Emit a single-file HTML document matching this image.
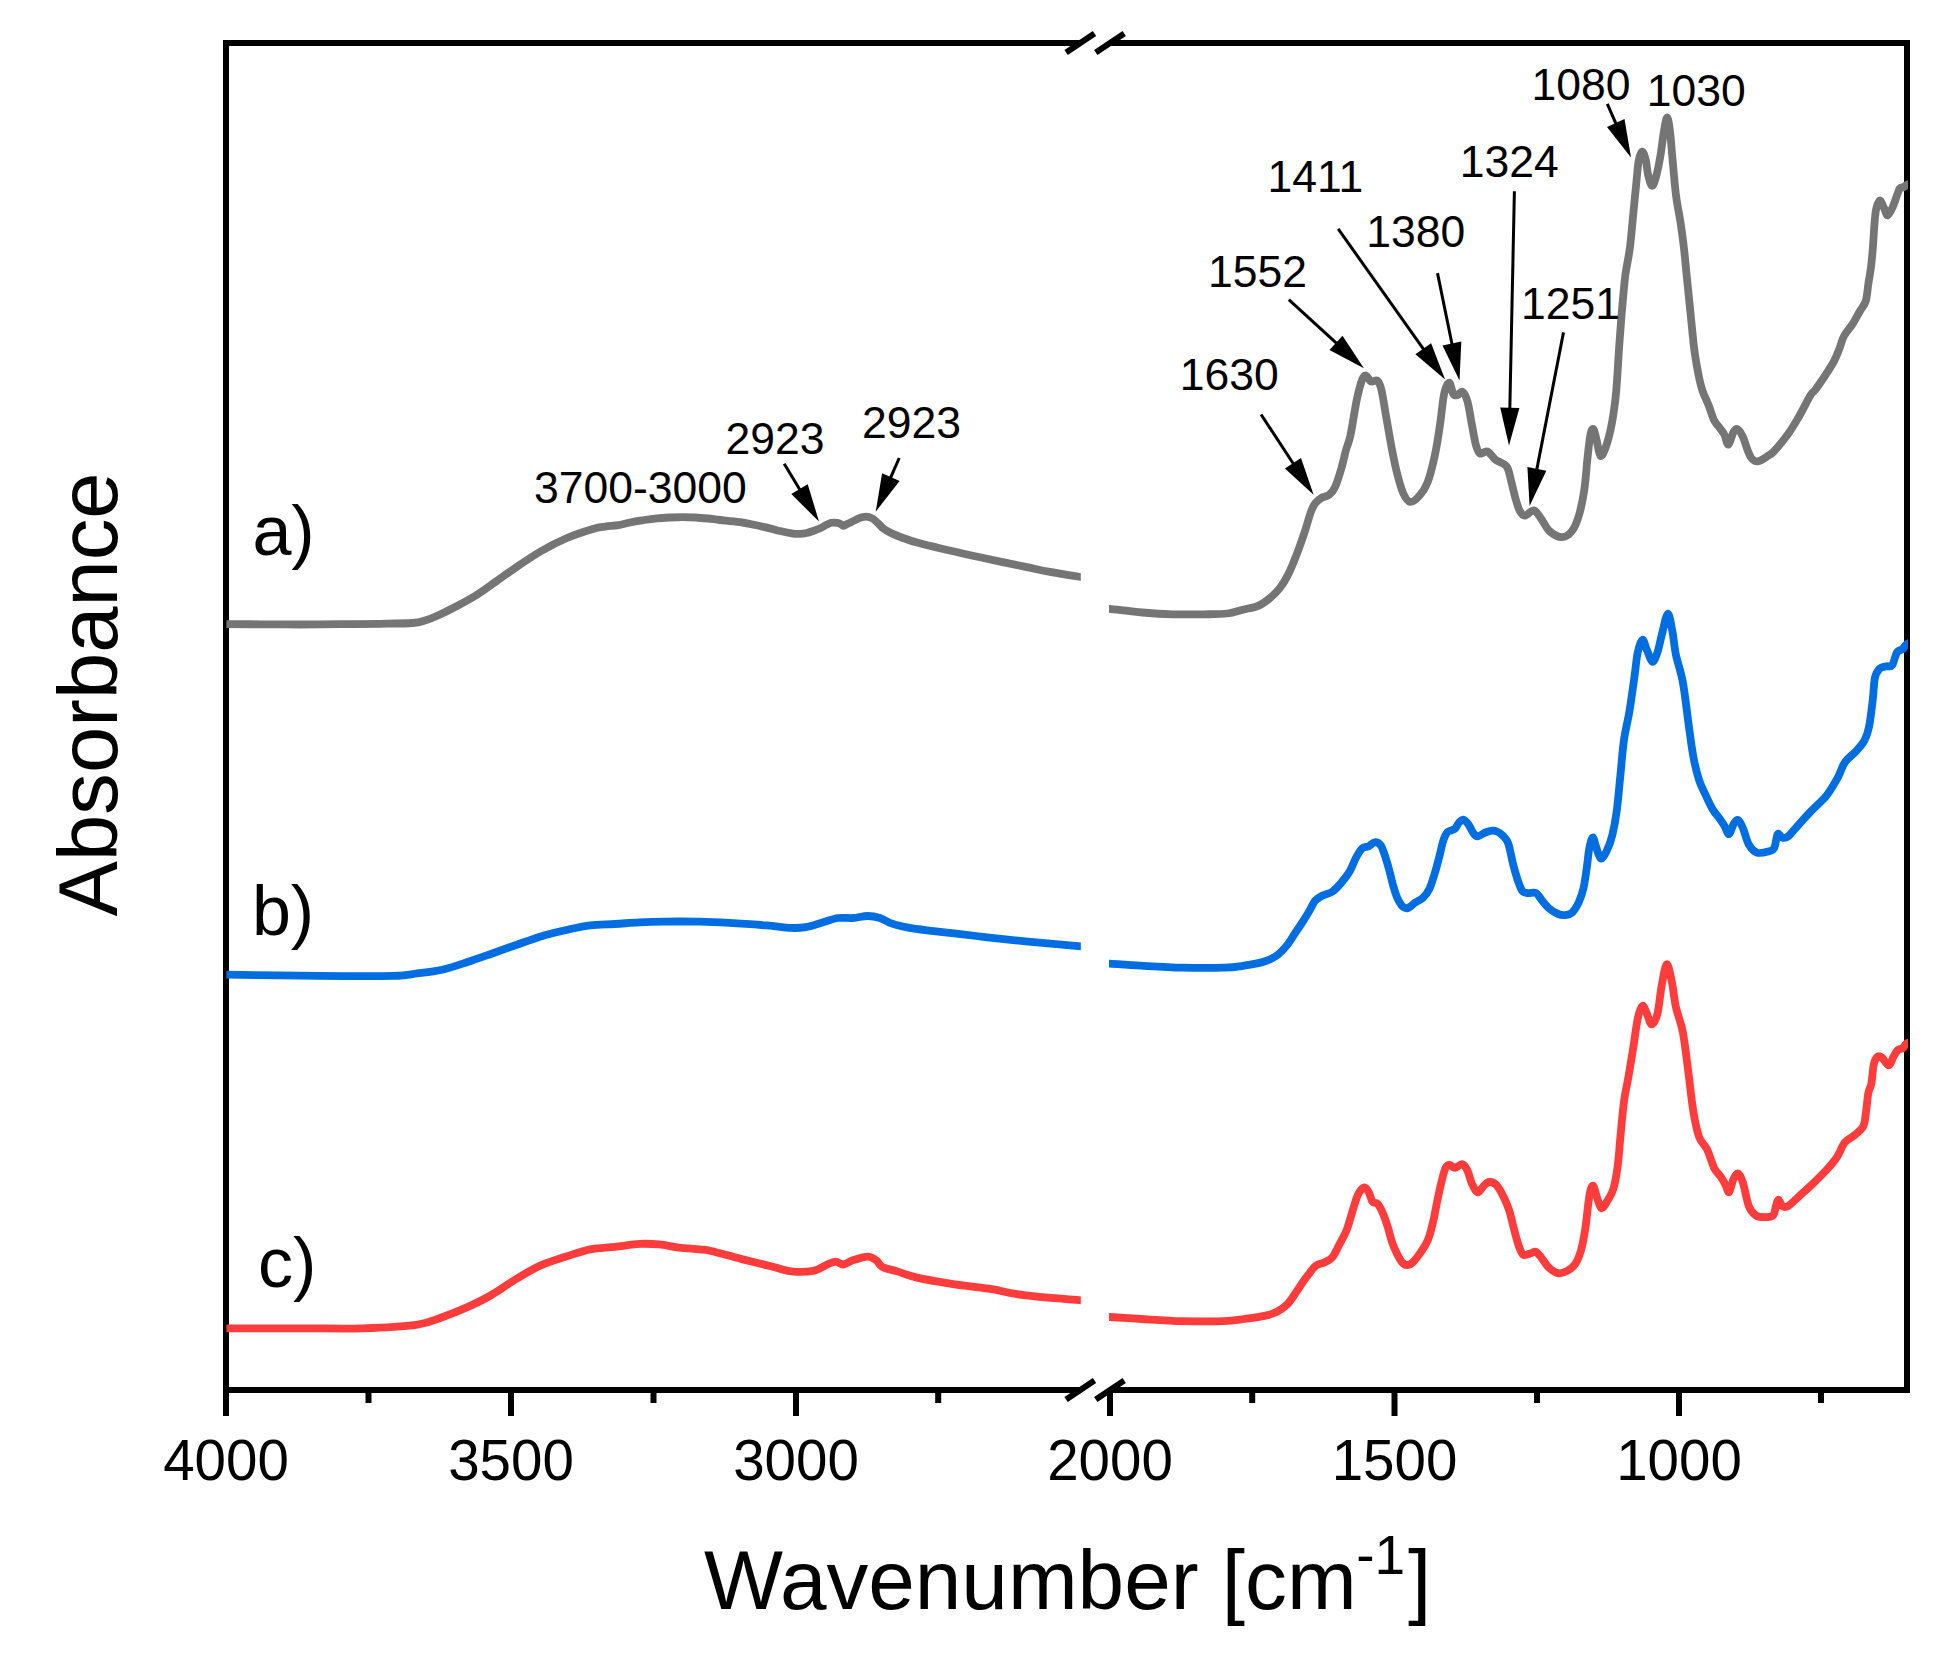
<!DOCTYPE html>
<html lang="en"><head><meta charset="utf-8"><title>FTIR absorbance spectra</title>
<style>html,body{margin:0;padding:0;background:#fff}body{width:1945px;height:1660px;overflow:hidden}svg{display:block}text{font-family:"Liberation Sans",Arial,Helvetica,sans-serif;fill:#000}.tk{font-size:56.5px;text-anchor:middle}.an{font-size:44.5px}.lb{font-size:70px}.ax{font-size:83.7px}.c{fill:none;stroke-width:7.8;stroke-linejoin:round;stroke-linecap:butt}</style></head><body>
<svg width="1945" height="1660" viewBox="0 0 1945 1660">
<rect width="1945" height="1660" fill="#fff"/>
<g stroke="#000" stroke-width="6" fill="none" stroke-linecap="butt">
<path d="M226 40.0V1393.0 M1907 40.0V1393.0"/>
<path d="M226 43H1080 M1110 43H1907"/>
<path d="M226 1390H1080 M1110 1390H1907"/>
<path d="M1066.1 52.5L1094.5 33.5"/>
<path d="M1095.8 52.5L1124.2 33.5"/>
<path d="M1066.1 1399.5L1094.5 1380.5"/>
<path d="M1095.8 1399.5L1124.2 1380.5"/>
<path d="M226 1390V1416M511 1390V1416M796 1390V1416M1110 1390V1416M1394.5 1390V1416M1679 1390V1416M368.5 1390V1403M653.5 1390V1403M938.2 1390V1403M1252.2 1390V1403M1537 1390V1403M1821 1390V1403"/>
</g>
<text class="tk" x="226" y="1480">4000</text>
<text class="tk" x="511" y="1480">3500</text>
<text class="tk" x="796" y="1480">3000</text>
<text class="tk" x="1110" y="1480">2000</text>
<text class="tk" x="1394.5" y="1480">1500</text>
<text class="tk" x="1679" y="1480">1000</text>
<text class="ax" x="704" y="1608.7">Wavenumber [cm<tspan font-size="55" dy="-34.4" dx="-0.5">-1</tspan><tspan dy="34.4" dx="3">]</tspan></text>
<text class="ax" style="font-size:83.2px" transform="translate(117.3 916.4) rotate(-90)" x="0" y="0">Absorbance</text>
<clipPath id="cp"><rect x="226.4" y="46" width="854.4" height="1341"/><rect x="1109" y="46" width="799" height="1341"/></clipPath><g clip-path="url(#cp)">
<path class="c" stroke="#757575" d="M220.5 624.2C221.5 624.2 219.9 624.2 226.5 624.2C233.1 624.2 247.8 624.2 260.0 624.3C272.2 624.3 286.7 624.5 300.0 624.5C313.3 624.5 326.7 624.3 340.0 624.2C353.3 624.1 367.9 624.0 380.0 623.8C392.1 623.6 405.3 623.5 412.8 623.0C420.3 622.5 420.7 621.8 425.0 620.5C429.3 619.2 433.2 617.6 438.5 615.2C443.8 612.8 450.6 609.4 457.0 606.0C463.4 602.6 470.5 598.8 477.0 594.7C483.5 590.6 489.6 586.0 496.0 581.5C502.4 577.0 508.1 572.8 515.6 567.7C523.1 562.6 532.7 556.0 541.3 551.0C549.9 546.0 558.4 541.7 567.0 538.0C575.6 534.3 586.5 530.9 592.8 529.0C599.1 527.1 600.7 527.2 605.0 526.6C609.3 526.0 614.2 525.9 618.5 525.2C622.8 524.5 626.7 523.2 631.0 522.3C635.3 521.4 639.9 520.7 644.2 520.0C648.5 519.3 652.7 518.7 657.0 518.3C661.3 517.9 665.7 517.7 670.0 517.5C674.3 517.3 678.7 517.2 683.0 517.2C687.3 517.2 691.4 517.3 695.6 517.5C699.8 517.7 703.9 518.1 708.0 518.5C712.1 518.9 714.7 519.4 720.0 520.0C725.3 520.6 732.5 521.0 740.0 522.2C747.5 523.4 758.0 525.6 764.7 527.1C771.4 528.6 775.3 529.9 780.0 531.0C784.7 532.1 789.7 533.1 793.0 533.6C796.3 534.1 797.7 534.0 800.0 533.9C802.3 533.8 804.4 533.5 806.6 533.0C808.8 532.5 810.7 531.8 813.0 531.0C815.3 530.2 818.0 529.3 820.2 528.3C822.4 527.3 824.1 525.9 826.0 525.0C827.9 524.1 829.4 523.2 831.3 522.8C833.2 522.4 835.9 522.6 837.5 522.8C839.1 523.0 840.0 523.7 841.0 524.2C842.0 524.7 842.7 525.9 843.7 525.9C844.7 525.9 845.8 524.6 847.0 524.0C848.2 523.4 849.1 523.1 851.0 522.2C852.9 521.3 856.7 519.3 858.5 518.5C860.3 517.7 860.8 517.5 862.0 517.2C863.2 516.9 864.6 516.6 865.9 516.6C867.1 516.6 868.3 516.8 869.5 517.2C870.7 517.6 871.6 517.8 873.3 519.0C874.9 520.2 877.8 523.1 879.4 524.6C881.0 526.1 881.2 526.9 883.1 528.3C885.0 529.7 888.1 531.5 891.0 533.0C893.9 534.5 895.8 535.3 900.4 537.0C905.0 538.7 910.7 540.9 918.9 543.1C927.1 545.4 939.6 548.1 949.8 550.5C960.0 552.9 967.6 554.6 980.0 557.3C992.4 560.0 1012.7 564.2 1024.4 566.6C1036.1 569.0 1040.6 570.2 1050.0 571.9C1059.4 573.6 1074.8 576.1 1081.0 577.0C1087.2 577.9 1086.0 577.3 1087.0 577.4"/>
<path class="c" stroke="#757575" d="M1103.1 608.9C1104.1 608.9 1102.5 608.3 1109.1 608.9C1115.7 609.5 1131.8 611.6 1142.5 612.5C1153.2 613.4 1163.1 614.0 1173.4 614.3C1183.7 614.6 1195.3 614.4 1204.3 614.3C1213.3 614.2 1221.0 614.3 1227.4 613.5C1233.8 612.7 1237.7 611.0 1242.8 609.7C1247.9 608.4 1253.8 607.6 1258.2 605.8C1262.6 604.0 1265.4 601.8 1269.0 598.9C1272.6 596.0 1276.6 592.2 1279.8 588.1C1283.0 584.0 1285.5 579.9 1288.3 574.2C1291.1 568.5 1294.1 561.1 1296.8 554.1C1299.5 547.1 1302.2 539.4 1304.5 532.5C1306.8 525.6 1308.9 517.4 1310.7 512.5C1312.5 507.6 1313.5 505.6 1315.3 503.2C1317.1 500.8 1319.2 499.2 1321.5 497.8C1323.8 496.4 1326.9 496.7 1329.2 494.8C1331.5 492.9 1333.4 490.8 1335.4 486.3C1337.5 481.8 1339.7 473.9 1341.5 467.8C1343.3 461.8 1344.5 455.4 1346.0 450.0C1347.5 444.6 1348.7 443.4 1350.5 435.1C1352.3 426.8 1354.8 409.2 1356.7 400.1C1358.6 391.0 1360.3 384.7 1361.8 380.6C1363.3 376.5 1364.4 375.3 1365.9 375.5C1367.5 375.7 1369.2 380.8 1371.1 381.6C1373.0 382.5 1375.5 379.2 1377.2 380.6C1378.9 382.0 1379.9 383.5 1381.4 389.8C1383.0 396.1 1384.8 409.0 1386.5 418.6C1388.2 428.2 1389.9 438.5 1391.6 447.4C1393.3 456.3 1394.9 464.6 1396.8 472.1C1398.7 479.7 1400.8 487.7 1403.0 492.7C1405.2 497.7 1407.5 501.4 1410.2 501.9C1412.9 502.4 1416.5 499.1 1419.4 495.8C1422.3 492.6 1425.0 489.1 1427.6 482.4C1430.2 475.7 1432.7 465.3 1434.8 455.7C1436.9 446.1 1438.5 435.1 1440.0 424.8C1441.5 414.5 1442.6 401.0 1444.1 394.0C1445.6 387.0 1447.7 382.6 1449.2 382.6C1450.7 382.6 1451.9 391.9 1453.3 394.0C1454.7 396.1 1456.0 395.4 1457.5 395.0C1459.0 394.6 1460.9 390.7 1462.6 391.9C1464.3 393.1 1466.2 396.7 1467.7 402.2C1469.2 407.7 1470.5 417.6 1471.9 424.8C1473.3 432.0 1474.6 440.6 1476.0 445.4C1477.4 450.2 1478.2 452.6 1480.1 453.6C1482.0 454.6 1484.7 450.5 1487.3 451.5C1489.9 452.5 1493.4 458.0 1495.5 459.8C1497.6 461.6 1498.0 460.9 1500.0 462.1C1502.0 463.3 1505.3 463.9 1507.2 467.2C1509.1 470.4 1509.9 476.5 1511.3 481.6C1512.7 486.8 1514.0 493.3 1515.4 498.1C1516.8 502.9 1518.0 507.5 1519.5 510.4C1521.0 513.3 1522.3 515.6 1524.7 515.6C1527.1 515.6 1531.2 509.9 1533.9 510.4C1536.6 510.9 1538.5 515.2 1541.1 518.6C1543.7 522.0 1546.0 527.9 1549.4 531.0C1552.8 534.1 1557.9 537.1 1561.7 537.1C1565.5 537.1 1569.1 534.8 1572.0 531.0C1574.9 527.2 1577.2 521.4 1579.2 514.5C1581.2 507.6 1582.9 499.1 1584.3 489.8C1585.7 480.6 1586.4 468.2 1587.4 459.0C1588.4 449.8 1589.5 439.3 1590.5 434.3C1591.5 429.3 1592.6 428.2 1593.6 429.2C1594.6 430.2 1595.6 436.1 1596.7 440.5C1597.8 444.9 1598.9 454.9 1600.4 455.9C1601.9 456.9 1604.0 452.3 1605.9 446.7C1607.9 441.1 1610.4 431.3 1612.1 422.0C1613.8 412.7 1615.0 404.0 1616.2 391.1C1617.4 378.2 1618.3 358.2 1619.3 344.7C1620.3 331.1 1621.0 321.4 1622.0 309.8C1623.0 298.2 1624.1 285.0 1625.4 274.8C1626.7 264.6 1628.5 258.8 1629.8 248.6C1631.1 238.4 1632.3 223.8 1633.3 213.6C1634.3 203.4 1635.0 196.1 1635.9 187.4C1636.8 178.7 1637.6 167.2 1638.6 161.2C1639.6 155.2 1640.9 151.9 1642.1 151.6C1643.3 151.3 1644.6 155.5 1645.6 159.4C1646.6 163.3 1647.1 170.8 1648.2 175.2C1649.3 179.6 1650.7 185.4 1652.0 185.7C1653.3 186.0 1654.6 181.9 1656.0 176.9C1657.4 171.9 1659.1 163.5 1660.4 155.9C1661.7 148.3 1662.8 137.9 1663.9 131.5C1665.0 125.1 1666.1 117.5 1667.1 117.5C1668.1 117.5 1669.1 124.2 1670.0 131.5C1670.9 138.8 1671.7 150.4 1672.7 161.2C1673.7 172.0 1674.8 185.9 1676.1 196.1C1677.4 206.3 1679.2 213.7 1680.5 222.4C1681.8 231.2 1683.0 239.9 1684.0 248.6C1685.0 257.3 1685.7 266.1 1686.6 274.8C1687.5 283.5 1688.4 292.3 1689.3 301.0C1690.2 309.7 1691.0 318.7 1691.9 327.2C1692.8 335.7 1693.5 344.1 1694.6 352.0C1695.7 359.9 1697.2 368.2 1698.5 374.7C1699.8 381.2 1700.9 386.0 1702.6 391.1C1704.3 396.2 1706.8 400.7 1708.7 405.5C1710.6 410.3 1712.2 416.3 1713.9 419.9C1715.6 423.5 1717.3 424.7 1719.0 427.1C1720.7 429.5 1722.7 431.4 1724.2 434.3C1725.8 437.2 1726.8 444.9 1728.3 444.6C1729.8 444.3 1731.9 434.9 1733.4 432.3C1734.9 429.7 1736.0 428.5 1737.5 429.2C1739.0 429.9 1741.0 432.8 1742.7 436.4C1744.4 440.0 1746.4 447.3 1747.8 450.8C1749.2 454.3 1749.9 455.8 1751.0 457.5C1752.1 459.2 1753.3 460.2 1754.5 460.8C1755.7 461.4 1756.8 461.5 1758.0 461.3C1759.2 461.1 1760.5 460.6 1762.0 459.8C1763.5 459.0 1765.1 457.8 1767.0 456.5C1768.9 455.2 1770.0 455.5 1773.5 451.8C1777.0 448.1 1783.8 440.0 1787.9 434.3C1792.0 428.6 1794.4 424.4 1798.2 417.9C1802.0 411.4 1807.7 399.8 1810.5 395.2C1813.3 390.6 1812.7 393.2 1815.1 390.0C1817.5 386.8 1821.6 380.8 1824.7 376.2C1827.8 371.6 1831.0 366.9 1833.5 362.2C1836.0 357.5 1837.8 352.6 1839.6 348.2C1841.3 343.8 1841.8 340.1 1844.0 336.0C1846.2 331.9 1850.1 327.9 1852.7 323.8C1855.3 319.7 1857.5 315.3 1859.7 311.5C1861.9 307.7 1864.3 305.7 1865.8 301.0C1867.2 296.3 1867.5 289.3 1868.4 283.5C1869.3 277.7 1870.4 271.9 1871.1 266.1C1871.8 260.3 1872.2 255.9 1872.8 248.6C1873.4 241.3 1874.0 229.1 1874.6 222.4C1875.2 215.7 1875.4 212.1 1876.3 208.4C1877.2 204.8 1878.5 200.5 1879.8 200.5C1881.1 200.5 1882.9 205.9 1884.2 208.4C1885.5 210.9 1886.2 215.7 1887.7 215.4C1889.2 215.1 1891.3 210.1 1892.9 206.6C1894.5 203.1 1896.1 197.4 1897.3 194.4C1898.5 191.4 1898.9 189.5 1899.9 188.3C1900.9 187.1 1902.2 187.8 1903.4 187.2C1904.6 186.6 1905.3 185.5 1906.9 184.8C1908.5 184.1 1911.9 183.4 1912.9 183.2"/>
<path class="c" stroke="#006EE0" d="M220.5 974.6C221.5 974.6 210.1 974.4 226.5 974.6C242.9 974.8 291.0 975.7 318.7 975.9C346.4 976.1 376.4 976.3 392.8 975.9C409.2 975.5 409.2 974.4 417.4 973.4C425.6 972.4 433.9 971.6 442.1 969.7C450.3 967.9 458.6 965.0 466.8 962.3C475.0 959.6 483.3 956.6 491.5 953.7C499.7 950.8 507.9 947.9 516.1 945.0C524.3 942.1 532.6 938.9 540.8 936.4C549.0 933.9 557.3 932.1 565.5 930.2C573.7 928.4 582.0 926.3 590.2 925.3C598.4 924.3 606.7 924.5 614.9 924.0C623.1 923.5 631.3 922.7 639.5 922.3C647.7 921.9 654.1 921.7 664.2 921.6C674.3 921.5 689.1 921.5 700.0 921.7C710.9 921.9 718.3 922.3 729.4 922.9C740.5 923.5 756.1 924.6 766.4 925.4C776.7 926.2 784.5 927.6 791.1 927.9C797.7 928.2 800.6 928.0 805.9 927.1C811.2 926.2 817.8 923.7 823.1 922.2C828.5 920.7 833.0 918.7 838.0 918.0C843.0 917.3 847.9 918.3 852.8 918.0C857.7 917.7 863.1 916.0 867.6 916.0C872.1 916.0 875.8 916.7 879.9 918.0C884.0 919.3 887.7 922.1 892.2 923.7C896.7 925.3 901.2 926.3 907.0 927.4C912.8 928.5 915.3 928.9 926.8 930.3C938.3 931.7 959.8 934.1 976.2 936.0C992.7 937.9 1008.0 939.7 1025.5 941.4C1043.0 943.1 1070.8 945.5 1081.0 946.4C1091.2 947.3 1086.0 946.6 1087.0 946.6"/>
<path class="c" stroke="#006EE0" d="M1103.3 963.6C1104.3 963.6 1103.0 963.2 1109.3 963.6C1115.6 964.0 1128.9 965.0 1141.1 965.7C1153.3 966.4 1168.6 967.4 1182.3 967.7C1196.0 968.0 1213.1 968.0 1223.4 967.7C1233.7 967.4 1237.2 966.7 1244.0 965.7C1250.8 964.7 1259.0 963.2 1264.5 961.5C1270.0 959.8 1273.1 958.1 1276.9 955.4C1280.7 952.7 1284.0 948.9 1287.1 945.1C1290.2 941.3 1292.7 936.8 1295.4 932.7C1298.2 928.6 1301.2 924.2 1303.6 920.4C1306.0 916.6 1307.9 913.4 1309.8 910.1C1311.7 906.9 1312.9 903.3 1314.9 900.9C1317.0 898.5 1319.2 897.2 1322.1 895.7C1325.0 894.2 1329.2 893.8 1332.4 891.6C1335.7 889.4 1338.7 885.8 1341.6 882.4C1344.5 879.0 1347.5 875.1 1349.9 871.0C1352.3 866.9 1354.0 861.5 1356.0 857.7C1358.0 853.9 1360.1 850.3 1362.2 848.4C1364.3 846.5 1366.4 847.4 1368.4 846.4C1370.5 845.4 1372.5 842.5 1374.5 842.3C1376.5 842.1 1378.8 842.6 1380.7 845.3C1382.6 848.0 1384.4 854.1 1385.9 858.7C1387.5 863.3 1388.8 868.7 1390.0 873.1C1391.2 877.5 1391.9 881.3 1393.1 885.4C1394.3 889.5 1395.8 894.5 1397.2 897.8C1398.6 901.1 1400.2 903.4 1401.3 905.0C1402.4 906.6 1403.0 907.0 1404.0 907.5C1405.0 908.0 1405.9 908.5 1407.0 908.3C1408.1 908.1 1409.2 907.4 1410.5 906.5C1411.8 905.6 1412.6 904.4 1414.7 902.9C1416.8 901.4 1420.5 900.0 1422.9 897.8C1425.3 895.6 1427.2 893.4 1429.1 889.6C1431.0 885.8 1432.5 880.7 1434.2 875.2C1435.9 869.7 1437.8 862.5 1439.3 856.7C1440.8 850.9 1442.0 844.3 1443.4 840.2C1444.8 836.1 1445.7 833.9 1447.6 832.0C1449.5 830.1 1452.9 830.4 1454.8 828.9C1456.7 827.4 1457.5 824.2 1458.9 822.7C1460.3 821.2 1461.5 819.4 1463.0 819.6C1464.5 819.8 1466.4 821.6 1468.1 823.8C1469.8 826.0 1471.7 830.9 1473.3 833.0C1474.9 835.1 1475.5 836.4 1477.5 836.3C1479.5 836.2 1483.0 833.4 1485.4 832.5C1487.8 831.6 1490.1 830.9 1492.0 830.7C1493.9 830.5 1495.3 830.8 1497.0 831.5C1498.7 832.2 1500.5 833.2 1502.4 835.2C1504.3 837.2 1506.5 838.7 1508.2 843.3C1509.9 847.9 1511.3 857.0 1512.8 863.0C1514.3 869.0 1515.9 874.6 1517.4 879.2C1519.0 883.8 1520.4 888.5 1522.1 890.8C1523.8 893.1 1525.5 892.7 1527.8 893.1C1530.1 893.5 1533.6 892.0 1535.9 893.1C1538.2 894.2 1539.6 897.5 1541.7 900.0C1543.8 902.5 1546.0 905.8 1548.7 908.1C1551.4 910.4 1555.2 912.7 1557.9 913.9C1560.6 915.1 1562.6 915.3 1564.9 915.1C1567.2 914.9 1569.5 914.9 1571.8 912.8C1574.1 910.7 1576.8 906.3 1578.7 902.3C1580.6 898.2 1582.1 894.3 1583.4 888.5C1584.8 882.7 1585.8 874.2 1586.8 867.6C1587.8 861.0 1588.2 854.1 1589.2 849.1C1590.2 844.1 1591.4 838.0 1592.6 837.6C1593.8 837.2 1594.8 843.3 1596.1 846.8C1597.4 850.3 1599.0 857.6 1600.7 858.4C1602.4 859.2 1604.6 855.3 1606.5 851.4C1608.4 847.5 1610.6 842.1 1612.3 835.2C1614.0 828.3 1615.6 819.8 1616.9 809.8C1618.2 799.8 1619.2 786.7 1620.4 775.1C1621.6 763.5 1622.4 751.2 1623.9 740.4C1625.4 729.6 1627.9 720.7 1629.6 710.3C1631.3 699.9 1632.9 687.5 1634.3 677.9C1635.7 668.3 1636.3 658.9 1637.7 652.5C1639.1 646.1 1640.9 640.1 1642.4 639.7C1644.0 639.3 1645.3 646.5 1647.0 650.2C1648.7 653.9 1650.6 661.3 1652.3 661.7C1654.0 662.1 1655.8 657.1 1657.4 652.5C1659.0 647.9 1660.3 640.5 1662.0 634.0C1663.7 627.5 1666.1 614.2 1667.8 613.8C1669.5 613.4 1671.1 624.8 1672.4 631.6C1673.8 638.4 1674.2 646.3 1675.9 654.8C1677.7 663.3 1680.8 670.9 1682.9 682.5C1685.0 694.1 1686.9 711.9 1688.6 724.2C1690.3 736.6 1691.6 747.4 1693.3 756.6C1695.0 765.9 1696.9 773.2 1699.0 779.7C1701.1 786.2 1703.7 790.9 1706.0 795.9C1708.3 800.9 1710.6 805.9 1712.9 809.8C1715.2 813.6 1718.0 816.3 1719.9 819.0C1721.8 821.7 1723.0 823.5 1724.5 826.0C1726.0 828.5 1727.5 834.5 1729.1 834.1C1730.6 833.7 1732.2 826.0 1733.8 823.7C1735.3 821.4 1736.9 819.4 1738.4 820.2C1739.9 821.0 1741.3 824.2 1743.0 828.3C1744.7 832.3 1746.5 840.5 1748.8 844.5C1751.1 848.5 1753.6 851.5 1756.9 852.6C1760.2 853.8 1765.6 852.2 1768.5 851.4C1771.4 850.6 1772.7 850.9 1774.2 848.0C1775.7 845.1 1776.4 835.8 1777.7 834.1C1779.0 832.4 1780.6 837.2 1782.3 837.6C1784.0 838.0 1785.4 838.5 1788.1 836.4C1790.8 834.3 1794.5 829.2 1798.5 824.8C1802.5 820.4 1807.8 814.6 1812.4 809.8C1817.0 805.0 1822.0 801.3 1826.3 795.9C1830.5 790.5 1834.8 783.0 1837.9 777.4C1841.0 771.8 1841.7 766.8 1844.8 762.4C1847.9 758.0 1853.1 754.5 1856.4 750.8C1859.7 747.1 1862.4 744.4 1864.5 740.4C1866.6 736.4 1867.8 733.0 1869.1 726.5C1870.4 720.0 1871.6 709.2 1872.6 701.1C1873.6 693.0 1873.8 683.3 1874.9 677.9C1876.1 672.5 1877.6 670.6 1879.5 668.7C1881.4 666.8 1884.4 666.9 1886.5 666.3C1888.6 665.7 1890.5 667.5 1892.2 665.2C1893.9 662.9 1895.2 655.2 1896.9 652.5C1898.7 649.8 1901.1 650.4 1902.7 649.0C1904.3 647.6 1904.9 645.6 1906.5 644.4C1908.1 643.2 1911.5 642.3 1912.5 641.9"/>
<path class="c" stroke="#FF3C3C" d="M220.5 1328.3C221.5 1328.3 213.2 1328.3 226.5 1328.3C239.8 1328.3 277.2 1328.3 300.0 1328.3C322.8 1328.3 343.5 1328.9 363.1 1328.3C382.7 1327.7 404.2 1326.4 417.4 1324.6C430.6 1322.8 433.9 1320.1 442.1 1317.2C450.3 1314.3 458.6 1311.1 466.8 1307.4C475.0 1303.7 483.3 1299.7 491.5 1295.0C499.7 1290.3 507.9 1283.9 516.1 1279.0C524.3 1274.1 532.6 1269.1 540.8 1265.4C549.0 1261.7 557.3 1259.5 565.5 1256.8C573.7 1254.1 582.0 1251.1 590.2 1249.4C598.4 1247.8 606.7 1247.8 614.9 1246.9C623.1 1246.0 632.1 1244.3 639.5 1243.9C646.9 1243.5 652.7 1243.8 659.3 1244.4C665.9 1245.0 672.2 1246.8 679.0 1247.6C685.8 1248.4 694.5 1248.8 700.0 1249.4C705.5 1250.0 705.1 1249.6 712.1 1251.2C719.1 1252.8 731.4 1256.5 741.7 1259.1C752.0 1261.7 765.6 1265.0 773.8 1267.0C782.0 1269.0 784.5 1270.8 791.1 1271.4C797.7 1272.1 807.5 1271.9 813.3 1270.9C819.0 1269.9 821.9 1266.8 825.6 1265.3C829.3 1263.8 832.6 1261.7 835.5 1261.6C838.4 1261.5 840.0 1264.7 842.9 1264.5C845.8 1264.3 848.7 1261.6 852.8 1260.3C856.9 1259.0 863.7 1256.6 867.6 1256.6C871.5 1256.6 873.7 1258.6 876.2 1260.3C878.7 1262.0 878.9 1265.2 882.4 1267.0C885.9 1268.8 891.5 1269.6 897.2 1271.4C903.0 1273.2 907.9 1275.5 916.9 1277.6C925.9 1279.7 939.6 1281.9 951.5 1283.8C963.4 1285.7 976.2 1286.8 988.5 1288.7C1000.8 1290.6 1010.1 1293.5 1025.5 1295.4C1040.9 1297.3 1070.8 1299.4 1081.0 1300.3C1091.2 1301.2 1086.0 1300.5 1087.0 1300.5"/>
<path class="c" stroke="#FF3C3C" d="M1103.3 1317.0C1104.3 1317.0 1103.0 1316.7 1109.3 1317.0C1115.6 1317.3 1128.9 1318.3 1141.1 1319.0C1153.3 1319.7 1168.6 1320.8 1182.3 1321.1C1196.0 1321.4 1213.1 1321.4 1223.4 1321.1C1233.7 1320.8 1237.2 1319.9 1244.0 1319.0C1250.8 1318.1 1259.0 1317.1 1264.5 1315.9C1270.0 1314.7 1273.1 1313.7 1276.9 1311.8C1280.7 1309.9 1284.0 1307.7 1287.1 1304.6C1290.2 1301.5 1292.7 1297.2 1295.4 1293.3C1298.2 1289.4 1301.2 1284.4 1303.6 1281.0C1306.0 1277.6 1307.8 1275.4 1309.8 1272.8C1311.8 1270.2 1313.5 1267.3 1315.9 1265.6C1318.3 1263.9 1321.5 1263.9 1324.2 1262.5C1327.0 1261.1 1329.8 1260.4 1332.4 1257.3C1335.0 1254.2 1337.2 1248.6 1339.6 1244.0C1342.0 1239.4 1344.8 1234.8 1346.8 1229.6C1348.8 1224.4 1350.2 1218.6 1351.9 1213.1C1353.6 1207.6 1355.5 1200.6 1357.1 1196.7C1358.6 1192.8 1360.0 1191.0 1361.2 1189.5C1362.4 1188.0 1363.1 1187.1 1364.3 1187.4C1365.5 1187.7 1367.0 1189.1 1368.4 1191.5C1369.8 1193.9 1371.0 1199.7 1372.5 1201.8C1374.0 1203.9 1375.9 1202.0 1377.6 1203.9C1379.3 1205.8 1381.1 1209.2 1382.8 1213.1C1384.5 1217.0 1386.4 1222.7 1387.9 1227.5C1389.4 1232.3 1390.5 1237.5 1392.0 1241.9C1393.5 1246.4 1395.5 1250.8 1397.2 1254.2C1398.9 1257.6 1400.6 1260.7 1402.3 1262.5C1404.0 1264.3 1405.6 1265.3 1407.5 1265.1C1409.4 1264.9 1411.4 1263.6 1413.6 1261.4C1415.8 1259.2 1418.4 1255.8 1420.8 1252.2C1423.2 1248.6 1425.9 1245.0 1428.0 1239.8C1430.1 1234.6 1431.7 1227.8 1433.2 1221.3C1434.8 1214.8 1435.9 1207.3 1437.3 1200.8C1438.7 1194.3 1440.0 1187.8 1441.4 1182.3C1442.8 1176.8 1444.1 1170.8 1445.5 1167.9C1446.9 1165.0 1448.0 1164.8 1449.6 1164.8C1451.1 1164.8 1452.7 1168.0 1454.8 1167.9C1456.9 1167.8 1460.0 1163.9 1462.0 1164.2C1464.0 1164.5 1465.4 1166.6 1467.1 1169.9C1468.8 1173.2 1470.4 1180.5 1472.2 1184.3C1474.0 1188.0 1475.9 1192.2 1477.8 1192.4C1479.7 1192.7 1481.8 1187.5 1483.7 1185.8C1485.6 1184.1 1487.1 1182.1 1489.2 1182.0C1491.3 1181.9 1494.2 1182.7 1496.6 1185.2C1499.0 1187.7 1501.4 1192.5 1503.5 1196.8C1505.6 1201.0 1507.5 1205.3 1509.3 1210.7C1511.0 1216.1 1512.5 1223.4 1514.0 1229.2C1515.5 1235.0 1517.1 1241.2 1518.6 1245.4C1520.1 1249.7 1521.3 1253.4 1523.2 1254.7C1525.1 1256.0 1528.1 1254.0 1530.2 1253.5C1532.3 1253.0 1534.0 1251.1 1535.9 1251.9C1537.8 1252.7 1539.6 1255.5 1541.7 1258.1C1543.8 1260.7 1546.0 1264.9 1548.7 1267.4C1551.4 1269.9 1554.8 1272.6 1557.9 1273.2C1561.0 1273.8 1564.3 1272.5 1567.2 1270.9C1570.1 1269.4 1573.0 1267.4 1575.3 1263.9C1577.6 1260.4 1579.4 1255.8 1581.1 1250.0C1582.8 1244.2 1584.0 1236.5 1585.2 1229.2C1586.4 1221.9 1587.2 1212.5 1588.0 1206.1C1588.8 1199.7 1589.4 1194.4 1590.3 1191.0C1591.2 1187.6 1592.2 1184.9 1593.3 1185.9C1594.4 1186.9 1595.4 1193.0 1596.8 1196.8C1598.2 1200.5 1599.6 1207.8 1601.4 1208.4C1603.2 1209.0 1605.7 1203.6 1607.7 1200.3C1609.7 1197.0 1611.8 1194.3 1613.4 1188.7C1615.1 1183.1 1616.4 1175.4 1617.6 1166.7C1618.8 1158.0 1619.4 1147.5 1620.4 1136.7C1621.5 1125.9 1622.6 1112.0 1623.9 1102.0C1625.2 1092.0 1627.0 1085.4 1628.5 1076.5C1630.0 1067.6 1631.6 1058.3 1633.1 1048.7C1634.6 1039.1 1636.2 1025.8 1637.7 1018.7C1639.2 1011.6 1640.9 1006.7 1642.4 1005.9C1644.0 1005.1 1645.5 1010.9 1647.0 1014.0C1648.5 1017.1 1649.9 1024.4 1651.6 1024.4C1653.3 1024.4 1655.7 1020.4 1657.4 1014.0C1659.1 1007.6 1660.0 994.6 1661.6 986.3C1663.1 978.0 1665.0 965.1 1666.7 964.3C1668.4 963.5 1670.3 974.5 1671.8 981.6C1673.3 988.7 1674.1 998.6 1675.9 1007.1C1677.8 1015.6 1680.8 1021.3 1682.9 1032.5C1685.0 1043.7 1686.9 1061.1 1688.6 1074.2C1690.3 1087.3 1691.6 1100.8 1693.3 1111.2C1695.0 1121.6 1696.7 1130.3 1699.0 1136.7C1701.3 1143.1 1704.6 1144.2 1707.1 1149.4C1709.6 1154.6 1711.8 1163.3 1714.1 1167.9C1716.4 1172.5 1719.1 1174.3 1721.0 1177.2C1722.9 1180.1 1724.4 1182.7 1725.7 1185.2C1727.0 1187.7 1727.8 1193.4 1729.1 1192.2C1730.4 1191.0 1732.2 1181.4 1733.8 1178.3C1735.3 1175.2 1736.9 1172.9 1738.4 1173.7C1739.9 1174.5 1741.3 1177.5 1743.0 1182.9C1744.7 1188.3 1746.7 1200.7 1748.8 1206.1C1750.9 1211.5 1753.2 1213.4 1755.7 1215.3C1758.2 1217.2 1760.9 1217.2 1763.8 1217.2C1766.7 1217.2 1771.1 1217.2 1773.1 1215.3C1775.1 1213.4 1775.0 1208.7 1775.9 1206.1C1776.8 1203.5 1777.3 1199.6 1778.4 1199.6C1779.5 1199.6 1780.7 1205.0 1782.3 1206.1C1783.9 1207.2 1785.4 1207.6 1788.1 1206.1C1790.8 1204.5 1794.5 1200.5 1798.5 1196.8C1802.5 1193.1 1807.8 1188.5 1812.4 1184.1C1817.0 1179.7 1822.2 1174.6 1826.3 1170.2C1830.3 1165.8 1833.6 1162.1 1836.7 1157.5C1839.8 1152.9 1841.9 1146.1 1844.8 1142.4C1847.7 1138.7 1851.0 1138.2 1854.1 1135.5C1857.2 1132.8 1861.3 1130.2 1863.3 1126.2C1865.3 1122.2 1865.2 1116.8 1866.1 1111.2C1866.9 1105.6 1867.5 1097.3 1868.4 1092.7C1869.3 1088.1 1870.5 1088.0 1871.4 1083.4C1872.3 1078.8 1872.7 1069.3 1873.7 1064.9C1874.7 1060.5 1875.9 1058.0 1877.2 1056.8C1878.5 1055.6 1879.9 1056.1 1881.8 1057.5C1883.7 1058.9 1886.9 1065.5 1888.8 1065.4C1890.7 1065.3 1891.9 1059.4 1893.4 1056.8C1894.9 1054.2 1896.5 1051.3 1898.0 1049.9C1899.5 1048.5 1901.4 1049.3 1902.7 1048.3C1904.0 1047.3 1904.3 1045.2 1905.8 1044.1C1907.3 1043.0 1910.8 1042.0 1911.8 1041.6"/>
</g>
<text class="lb" x="252.4" y="555">a)</text>
<text class="lb" x="251.9" y="935">b)</text>
<text class="lb" x="258" y="1287">c)</text>
<text class="an" x="533.9" y="503">3700-3000</text>
<text class="an" x="725.4" y="453.7">2923</text>
<text class="an" x="862" y="438.3">2923</text>
<text class="an" x="1179.7" y="389.5">1630</text>
<text class="an" x="1207.9" y="286.9">1552</text>
<text class="an" x="1267.5" y="191.9">1411</text>
<text class="an" x="1366.3" y="246.5">1380</text>
<text class="an" x="1459.7" y="177.1">1324</text>
<text class="an" x="1520.9" y="318.8">1251</text>
<text class="an" x="1531.6" y="100.4">1080</text>
<text class="an" x="1646.7" y="106.2">1030</text>
<path d="M784.2 463.8L800.5 490.8" stroke="#000" stroke-width="3" fill="none"/>
<path d="M819.0 521.5L791.3 494.1L807.7 484.2Z" fill="#000"/>
<path d="M899.2 458.0L890.1 478.9" stroke="#000" stroke-width="3" fill="none"/>
<path d="M875.7 511.7L882.1 473.2L899.6 480.9Z" fill="#000"/>
<path d="M1261.1 414.5L1294.0 464.8" stroke="#000" stroke-width="3" fill="none"/>
<path d="M1313.6 494.8L1284.9 468.4L1301.0 457.9Z" fill="#000"/>
<path d="M1288.8 299.6L1337.5 344.1" stroke="#000" stroke-width="3" fill="none"/>
<path d="M1363.9 368.3L1329.5 349.9L1342.5 335.7Z" fill="#000"/>
<path d="M1338.2 228.9L1424.4 350.4" stroke="#000" stroke-width="3" fill="none"/>
<path d="M1445.1 379.6L1415.4 354.3L1431.1 343.2Z" fill="#000"/>
<path d="M1437.5 273.1L1452.3 345.5" stroke="#000" stroke-width="3" fill="none"/>
<path d="M1459.5 380.6L1442.5 345.5L1461.3 341.6Z" fill="#000"/>
<path d="M1514.4 191.3L1509.8 409.7" stroke="#000" stroke-width="3" fill="none"/>
<path d="M1509.0 445.5L1500.2 407.5L1519.4 407.9Z" fill="#000"/>
<path d="M1563.5 332.4L1536.5 470.9" stroke="#000" stroke-width="3" fill="none"/>
<path d="M1529.6 506.0L1527.4 467.1L1546.3 470.7Z" fill="#000"/>
<path d="M1607.3 103.9L1616.5 124.8" stroke="#000" stroke-width="3" fill="none"/>
<path d="M1631.0 157.6L1607.0 126.9L1624.5 119.1Z" fill="#000"/>
</svg></body></html>
